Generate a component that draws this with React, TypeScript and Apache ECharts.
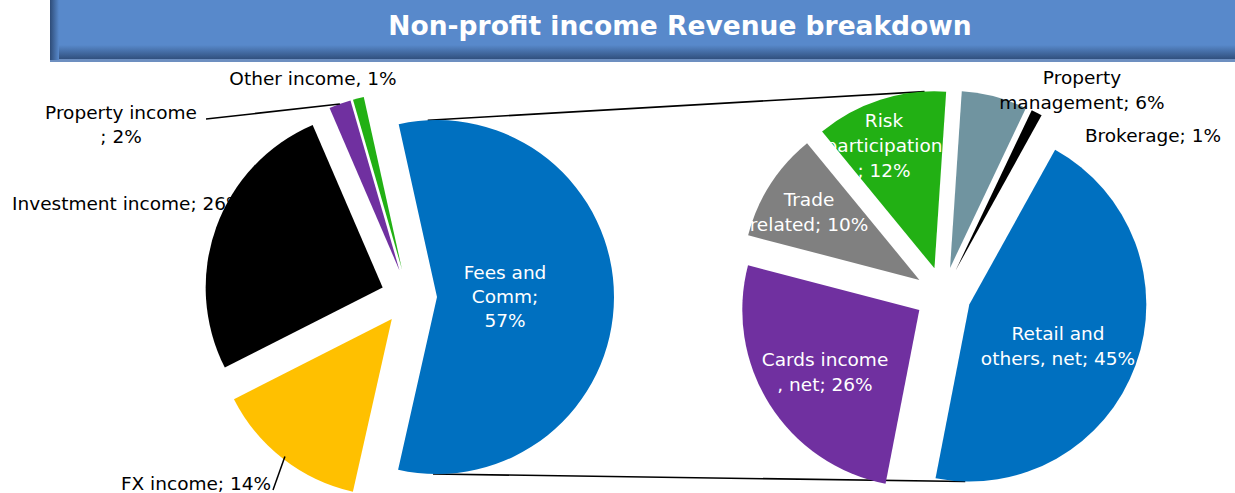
import React, { useEffect, useRef } from 'react';
import * as echarts from 'echarts';

// ---------- data ----------
const titleText = 'Non-profit income Revenue breakdown';

const mainCategories = ['Fees and Comm', 'FX income', 'Investment income', 'Property income', 'Other income'];
const mainValues = [57, 14, 26, 2, 1];
const mainLabelTemplates = ['Fees and\nComm;\n{c}%', 'FX income; {c}%', 'Investment income; {c}%', 'Property income\n; {c}%', 'Other income, {c}%'];

const feeCategories = ['Retail and others, net', 'Cards income, net', 'Trade related', 'Risk participation', 'Property management', 'Brokerage'];
const feeValues = [45, 26, 10, 12, 6, 1];
const feeLabelTemplates = ['Retail and\nothers, net; {c}%', 'Cards income\n, net; {c}%', 'Trade\nrelated; {c}%', 'Risk\nparticipation\n; {c}%', 'Property\nmanagement; {c}%', 'Brokerage; {c}%'];

// ---------- styles / layout ----------
const mainColors = ['#0070C0', '#FFC000', '#000000', '#7030A0', '#22B014'];
const mainLabelColors = ['#ffffff', '#000000', '#000000', '#000000', '#000000'];
const feeColors = ['#0070C0', '#7030A0', '#808080', '#22B014', '#7094A0', '#000000'];
const feeLabelColors = ['#ffffff', '#ffffff', '#ffffff', '#ffffff', '#000000', '#000000'];

const FONT = 'DejaVu Sans';
const FONT_SIZE = 18.5;
const R = 177;
const OFFSET = 28;
const LEFT_CENTER = [409, 297];
const RIGHT_CENTER = [943, 295];
const LEFT_START = 102.5;
const RIGHT_START = 61;

// label anchor positions [x, y, align]
const mainLabelPos: [number, number, string][] = [
  [505, 296, 'center'],
  [196, 483, 'center'],
  [12, 203, 'left'],
  [121, 124.5, 'center'],
  [313, 78, 'center'],
];
const feeLabelPos: [number, number, string][] = [
  [1058, 346, 'center'],
  [825, 371.5, 'center'],
  [809, 211.5, 'center'],
  [884, 145, 'center'],
  [1082, 89.5, 'center'],
  [1153, 135, 'center'],
];
// leader line starts (label side), keyed by slice index of the main pie
const leaderStarts: Record<number, number[]> = { 3: [206, 119], 1: [273, 490] };

function sliceAngles(values: number[], start: number) {
  const total = values.reduce((a, b) => a + b, 0);
  let a = start;
  return values.map((v) => {
    const span = (v / total) * 360;
    const s = a;
    const e = a - span;
    a = e;
    return { s, e, mid: (s + e) / 2 };
  });
}

function vertexOf(center: number[], midDeg: number) {
  const r = (midDeg * Math.PI) / 180;
  return [center[0] + OFFSET * Math.cos(r), center[1] - OFFSET * Math.sin(r)];
}

function pointOn(center: number[], midDeg: number, angDeg: number, rad: number) {
  const v = vertexOf(center, midDeg);
  const r = (angDeg * Math.PI) / 180;
  return [v[0] + rad * Math.cos(r), v[1] - rad * Math.sin(r)];
}

function labelTexts(templates: string[], values: number[]) {
  return templates.map((t, i) => t.replace('{c}', String(values[i])));
}

export default function App() {
  const ref = useRef<HTMLDivElement>(null);

  useEffect(() => {
    if (!ref.current) return;
    const chart = echarts.init(ref.current, null, { renderer: 'svg' });

    const leftAng = sliceAngles(mainValues, LEFT_START);
    const rightAng = sliceAngles(feeValues, RIGHT_START);

    // connector lines between the two pies
    const lTop = pointOn(LEFT_CENTER, leftAng[0].mid, 93, R);
    const lBot = pointOn(LEFT_CENTER, leftAng[0].mid, -91.3, R);
    const rTop = pointOn(RIGHT_CENTER, rightAng[3].mid, 93.2, R);
    const rBot = pointOn(RIGHT_CENTER, rightAng[0].mid, -91.3, R);

    const mainTexts = labelTexts(mainLabelTemplates, mainValues);
    const feeTexts = labelTexts(feeLabelTemplates, feeValues);

    const textEl = (text: string, pos: [number, number, string], color: string, lh: number) => ({
      type: 'text',
      x: pos[0],
      y: pos[1],
      z: 10,
      silent: true,
      style: {
        text,
        fill: color,
        fontFamily: FONT,
        fontSize: FONT_SIZE,
        lineHeight: lh,
        textAlign: pos[2],
        textVerticalAlign: 'middle',
      },
    });

    const leaders = Object.keys(leaderStarts).map((k) => {
      const i = Number(k);
      const end = pointOn(LEFT_CENTER, leftAng[i].mid, leftAng[i].mid, i === 1 ? R - 3 : R);
      return {
        type: 'polyline',
        z: 10,
        silent: true,
        shape: { points: [leaderStarts[i], end] },
        style: { stroke: '#000000', lineWidth: 1.5, fill: null },
      };
    });

    const option: any = {
      animation: false,
      backgroundColor: '#ffffff',
      graphic: [
        {
          type: 'rect',
          shape: { x: 50, y: 0, width: 1185, height: 62 },
          style: { fill: '#5889CB' },
          z: 0,
        },
        {
          type: 'rect',
          shape: { x: 50, y: 45, width: 1185, height: 15 },
          style: {
            fill: new echarts.graphic.LinearGradient(0, 0, 0, 1, [
              { offset: 0, color: '#5889CB' },
              { offset: 1, color: '#2E4C78' },
            ]),
          },
          z: 0,
        },
        {
          type: 'rect',
          shape: { x: 50, y: 59, width: 1185, height: 3 },
          style: { fill: '#6D8FC0' },
          z: 0,
        },
        {
          type: 'rect',
          shape: { x: 50, y: 0, width: 9, height: 60 },
          style: {
            fill: new echarts.graphic.LinearGradient(0, 0, 1, 0, [
              { offset: 0, color: '#2E4C78' },
              { offset: 1, color: '#5889CB' },
            ]),
          },
          z: 0,
        },
        {
          type: 'text',
          x: 680,
          y: 25,
          style: {
            text: titleText,
            fill: '#ffffff',
            font: `bold 26.5px "${FONT}"`,
            textAlign: 'center',
            textVerticalAlign: 'middle',
          },
          z: 5,
        },
        {
          type: 'line',
          shape: { x1: lTop[0], y1: lTop[1], x2: rTop[0], y2: rTop[1] },
          style: { stroke: '#000000', lineWidth: 1.6 },
          z: 1,
        },
        {
          type: 'line',
          shape: { x1: lBot[0], y1: lBot[1], x2: rBot[0], y2: rBot[1] },
          style: { stroke: '#000000', lineWidth: 1.6 },
          z: 1,
        },
        ...leaders,
        ...mainTexts.map((t, i) => textEl(t, mainLabelPos[i], mainLabelColors[i], 24)),
        ...feeTexts.map((t, i) => textEl(t, feeLabelPos[i], feeLabelColors[i], 25)),
      ],
      series: [
        {
          type: 'pie',
          center: LEFT_CENTER,
          radius: R,
          startAngle: LEFT_START,
          clockwise: true,
          selectedMode: 'multiple',
          selectedOffset: OFFSET,
          silent: true,
          emphasis: { disabled: true },
          itemStyle: { borderWidth: 0 },
          label: { show: false },
          labelLine: { show: false },
          data: mainCategories.map((name, i) => ({
            name,
            value: mainValues[i],
            selected: true,
            itemStyle: { color: mainColors[i] },
          })),
        },
        {
          type: 'pie',
          center: RIGHT_CENTER,
          radius: R,
          startAngle: RIGHT_START,
          clockwise: true,
          selectedMode: 'multiple',
          selectedOffset: OFFSET,
          silent: true,
          emphasis: { disabled: true },
          itemStyle: { borderWidth: 0 },
          label: { show: false },
          labelLine: { show: false },
          data: feeCategories.map((name, i) => ({
            name,
            value: feeValues[i],
            selected: true,
            itemStyle: { color: feeColors[i] },
          })),
        },
      ],
    };

    chart.setOption(option);
    return () => chart.dispose();
  }, []);

  return (
    <div
      ref={ref}
      style={{ position: 'absolute', left: 0, top: 0, width: 1235, height: 493, background: '#fff' }}
    />
  );
}
